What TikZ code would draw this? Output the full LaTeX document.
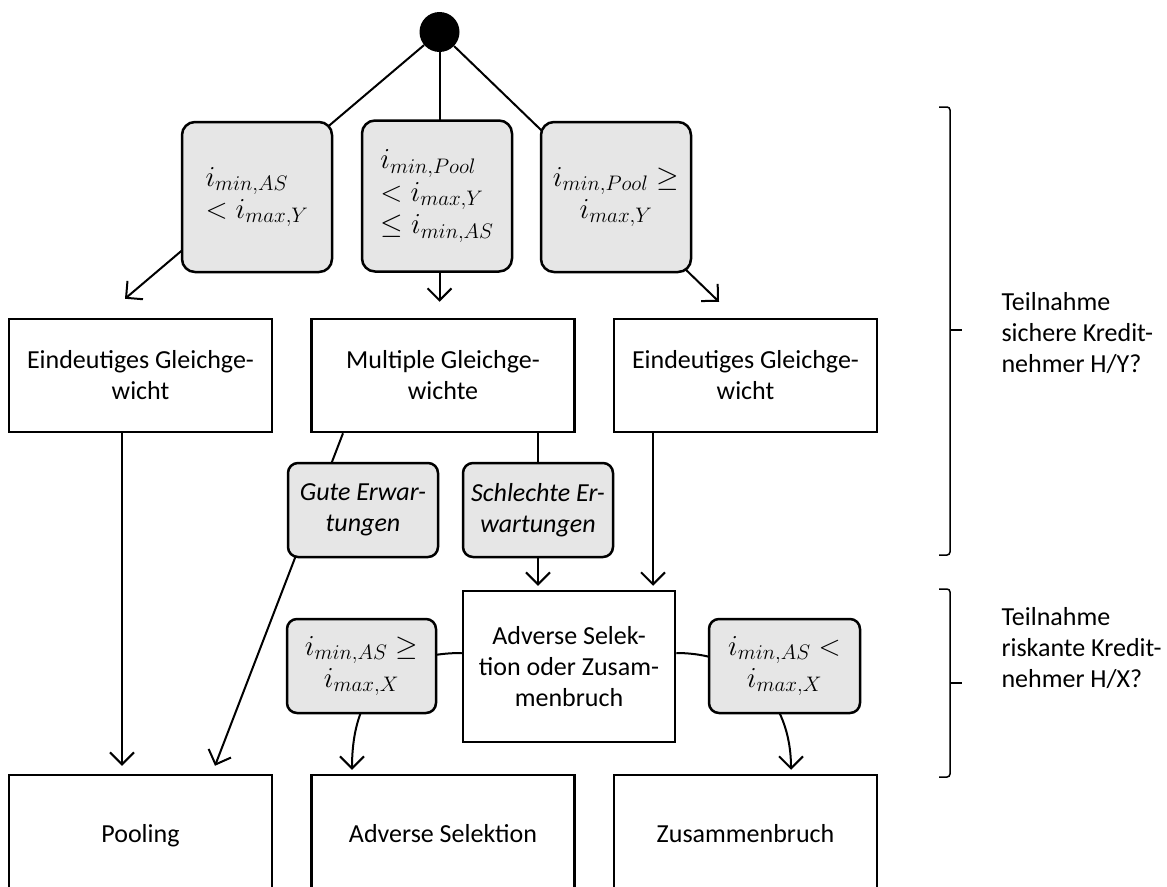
\documentclass[tikz,border=0pt]{standalone}
\usepackage{fix-cm}
\usepackage{fontspec}
\setmainfont{Carlito}
\usetikzlibrary{arrows.meta,calc}
\definecolor{condgray}{HTML}{E6E6E6}
\DeclareMathSizes{29}{29}{21}{16}
\begin{document}
\begin{tikzpicture}[x=1pt,y=1pt,
  every node/.style={font=\fontsize{26}{31}\selectfont},
  box/.style={draw, line width=2.5pt, minimum width=263pt, inner sep=0pt, align=center},
  endbox/.style={box, minimum height=116pt, text height=24pt, text depth=6pt},
  cond/.style={draw, line width=2.5pt, fill=condgray, rounded corners=13pt,
    minimum width=150pt, inner sep=0pt, align=center},
  mathcond/.style={cond, font=\fontsize{29}{32.5}\selectfont},
  conn/.style={line width=2pt},
  arr/.style={conn, -{Straight Barb[length=12pt,width=24pt,line width=2pt]}},
  bracket/.style={line width=1.5pt, rounded corners=3pt},
]
\useasboundingbox (0,0) rectangle (1167,-886);
\clip (0,0) rectangle (1167,-886);

% start point
\node[circle, fill=black, minimum size=40pt, inner sep=0pt] (start) at (439.5,-32) {};

% first outcome level
\node[box, minimum height=113pt] (eq1) at (140.5,-375.5) {Eindeutiges Gleichge-\\wicht};
\node[box, minimum height=113pt] (eq2) at (443,-375.5) {Multiple Gleichge-\\wichte};
\node[box, minimum height=113pt] (eq3) at (745.5,-375.5) {Eindeutiges Gleichge-\\wicht};

% intermediate state
\node[box, minimum width=212pt, minimum height=151pt] (adv) at (569,-666.5)
  {Adverse Selek-\\tion oder Zusam-\\menbruch};

% final outcomes
\node[endbox] (pool) at (140.5,-833) {Pooling};
\node[endbox] (as) at (443,-833) {Adverse Selektion};
\node[endbox] (zus) at (745.5,-833) {Zusammenbruch};

% connectors
\draw[arr] (start) -- ([xshift=-15.5pt,yshift=19pt]eq1.north);
\draw[arr] (start) -- ([xshift=-3.5pt,yshift=16pt]eq2.north);
\draw[arr] (start) -- ([xshift=-26.5pt,yshift=16pt]eq3.north);

\draw[arr] ([xshift=-18.5pt]eq1.south) -- ([xshift=-18.5pt,yshift=8pt]pool.north);
\draw[arr] ([xshift=-100pt]eq2.south) -- ([xshift=74.5pt,yshift=8pt]pool.north);
\draw[arr] ([xshift=95pt]eq2.south) -- ([xshift=-31pt,yshift=4pt]adv.north);
\draw[arr] ([xshift=-92.5pt]eq3.south) -- ([xshift=84pt,yshift=4pt]adv.north);

\draw[arr] ([yshift=13.5pt]adv.west) .. controls +(-75,0) and +(0,75) ..
  ([xshift=-91pt,yshift=4pt]as.north);
\draw[arr] ([yshift=13.5pt]adv.east) .. controls +(70,0) and +(0,70) ..
  ([xshift=45.5pt,yshift=4pt]zus.north);

% conditions on the connectors
\node[mathcond, minimum height=150pt, align=left] (c1) at (257,-197)
  {$i_{min,AS}$\\$<i_{max,Y}$};
\node[mathcond, minimum height=151pt, align=left] (c2) at (437,-196)
  {$i_{min,Pool}$\\$<i_{max,Y}$\\$\le i_{min,AS}$};
\node[mathcond, minimum height=150pt] (c3) at (616,-197)
  {$i_{min,Pool}\ge$\\$i_{max,Y}$};

\node[cond, minimum height=94pt, rounded corners=10pt] (gute) at (363,-510)
  {\itshape Gute Erwar-\\\itshape tungen};
\node[cond, minimum height=94pt, rounded corners=10pt] (schl) at (538,-510)
  {\itshape Schlechte Er-\\\itshape wartungen};

\node[mathcond, minimum width=149pt, minimum height=94pt, rounded corners=10pt] (cx1) at (361.5,-666)
  {$i_{min,AS}\ge$\\$i_{max,X}$};
\node[mathcond, minimum width=151pt, minimum height=94pt, rounded corners=10pt] (cx2) at (784.5,-666)
  {$i_{min,AS}<$\\$i_{max,X}$};

% brackets for the participation questions
\draw[bracket] (939,-107) -- (950,-107) -- (950,-555) -- (939,-555);
\draw[bracket] (950,-330) -- (962,-330);
\draw[bracket] (939,-589) -- (950,-589) -- (950,-777) -- (939,-777);
\draw[bracket] (950,-683) -- (962,-683);

\node[anchor=base west, align=left] (q1) at (998,-372)
  {Teilnahme\\sichere Kredit-\\nehmer H/Y?};
\node[anchor=base west, align=left] (q2) at (998,-687)
  {Teilnahme\\riskante Kredit-\\nehmer H/X?};
\end{tikzpicture}
\end{document}
